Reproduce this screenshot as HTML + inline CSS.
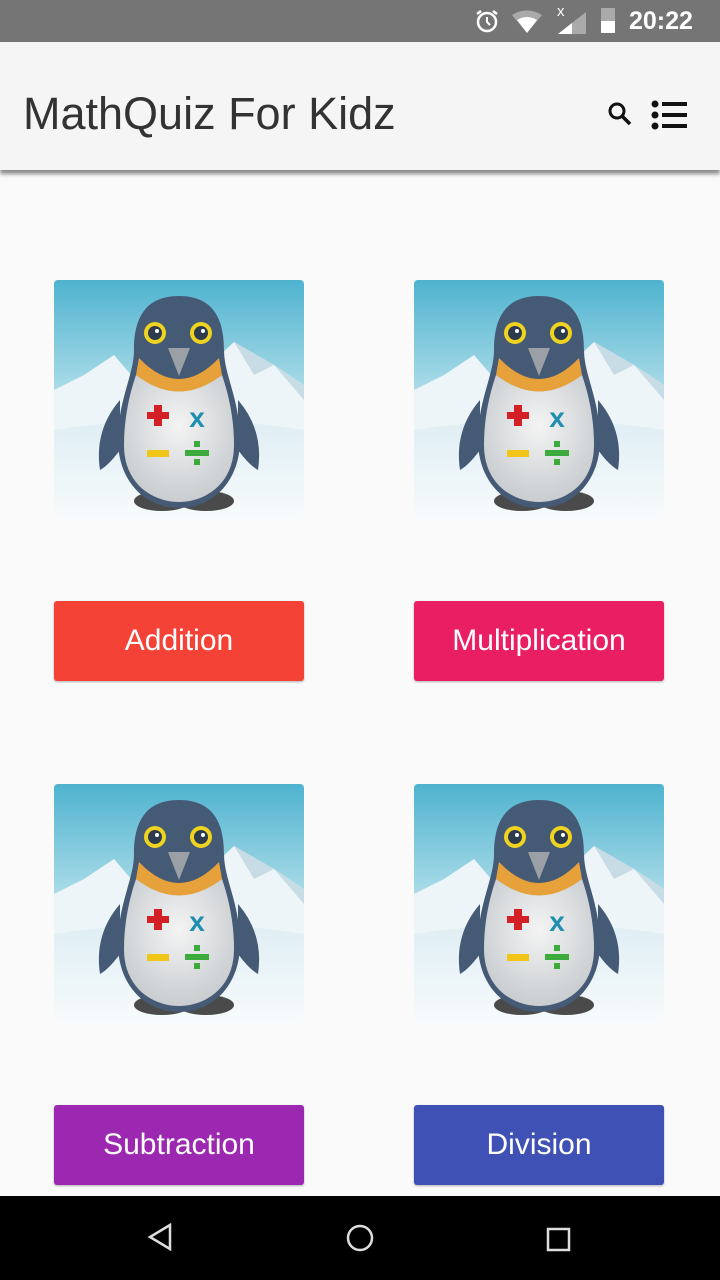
<!DOCTYPE html>
<html><head><meta charset="utf-8"><style>
body{margin:0;width:720px;height:1280px;background:#fafafa;position:relative;overflow:hidden;font-family:"Liberation Sans",sans-serif}
.sb{position:absolute;left:0;top:0;width:720px;height:42px;background:#757575;color:#fff}
.ab{position:absolute;left:0;top:42px;width:720px;height:128px;background:#f5f5f5;box-shadow:0 4px 4px rgba(0,0,0,.45)}
.title{position:absolute;left:23px;top:87px;font-size:45px;color:#333;line-height:54px}
.img{position:absolute;width:250px;height:240px;border-radius:4px;overflow:hidden}
.btn{position:absolute;width:250px;height:80px;border-radius:3px;color:#fff;font-size:30px;text-align:center;line-height:80px;box-shadow:0 1px 2px rgba(0,0,0,.3)}
.nav{position:absolute;left:0;top:1196px;width:720px;height:84px;background:#000}
</style></head><body>
<svg width="0" height="0" style="position:absolute"><defs>
<linearGradient id="sky" x1="0" y1="0" x2="0" y2="1"><stop offset="0" stop-color="#4fb3cf"/><stop offset="0.45" stop-color="#a9dbe8"/><stop offset="1" stop-color="#e6f2f6"/></linearGradient>
<linearGradient id="snow" x1="0" y1="0" x2="0" y2="1"><stop offset="0" stop-color="#dfeef4"/><stop offset="1" stop-color="#f7fbfc"/></linearGradient>
<radialGradient id="belly" cx="0.5" cy="0.4" r="0.6"><stop offset="0" stop-color="#f4f4f4"/><stop offset="1" stop-color="#c9cdd0"/></radialGradient>
<symbol id="p" viewBox="0 0 250 240">
<rect width="250" height="240" fill="url(#sky)"/>
<path d="M0 110 L30 95 L60 75 L90 110 L150 90 L180 62 L220 85 L250 105 L250 240 L0 240Z" fill="#eef5f8"/>
<path d="M0 150 Q125 130 250 150 L250 240 L0 240Z" fill="url(#snow)"/>
<path d="M180 62 L200 95 L220 85 L250 120 L250 105 L220 85Z" fill="#c8dce6"/>
<ellipse cx="108" cy="221" rx="28" ry="10" fill="#4a4a4a"/><ellipse cx="152" cy="221" rx="28" ry="10" fill="#4a4a4a"/>
<path d="M66 120 Q40 150 46 190 Q55 185 66 170Z" fill="#455a75"/>
<path d="M184 120 Q210 150 204 190 Q195 185 184 170Z" fill="#455a75"/>
<path d="M125 16 C90 16 80 40 80 70 C80 95 64 120 64 160 C64 200 90 228 125 228 C160 228 186 200 186 160 C186 120 170 95 170 70 C170 40 160 16 125 16Z" fill="#455a75"/>
<path d="M85 78 Q125 120 165 78 L168 95 Q125 130 82 95Z" fill="#e6a13a"/>
<path d="M82 95 Q125 128 168 95 Q180 130 180 165 C180 205 150 222 125 222 C100 222 70 205 70 165 Q70 130 82 95Z" fill="url(#belly)"/>
<circle cx="101" cy="53" r="11" fill="#f0d320"/><circle cx="101" cy="53" r="7" fill="#2d3b4e"/><circle cx="103" cy="51" r="2" fill="#fff"/>
<circle cx="147" cy="53" r="11" fill="#f0d320"/><circle cx="147" cy="53" r="7" fill="#2d3b4e"/><circle cx="149" cy="51" r="2" fill="#fff"/>
<path d="M114 68 L136 68 L125 96Z" fill="#9aa0a6"/>
<rect x="93" y="132" width="22" height="7" fill="#d31f26"/><rect x="100" y="125" width="8" height="21" fill="#d31f26"/>
<text x="143" y="147" font-family="Liberation Sans" font-weight="bold" font-size="28" fill="#1f8fb0" text-anchor="middle">x</text>
<rect x="93" y="170" width="22" height="7" fill="#f2c618"/>
<rect x="131" y="170" width="24" height="6" fill="#3caa3c"/><rect x="140" y="161" width="6" height="6" fill="#3caa3c"/><rect x="140" y="179" width="6" height="6" fill="#3caa3c"/>
</symbol></defs></svg>
<div class="sb">
<svg style="position:absolute;left:474px;top:8px" width="26" height="26" viewBox="0 0 26 26"><circle cx="13" cy="14" r="9" fill="none" stroke="#fff" stroke-width="2.5"/><path d="M13 9v5l3 3" stroke="#fff" stroke-width="2" fill="none"/><path d="M3 6l4-3M23 6l-4-3" stroke="#fff" stroke-width="2.5"/></svg>
<svg style="position:absolute;left:512px;top:10px" width="30" height="24" viewBox="0 0 30 24"><path d="M0 5 Q15 -4 30 5 L15 23Z" fill="#aaa"/><path d="M5 10 Q15 4 25 10 L15 23Z" fill="#fff"/></svg>
<div style="position:absolute;left:557px;top:3px;font-size:15px">x</div>
<svg style="position:absolute;left:558px;top:12px" width="28" height="22"><path d="M0 22L28 0V22Z" fill="#aaa"/><path d="M0 22L14 11V22Z" fill="#fff"/></svg>
<div style="position:absolute;left:601px;top:8px;width:14px;height:24px;background:#aaa"></div><div style="position:absolute;left:601px;top:21px;width:14px;height:12px;background:#fff"></div>
<div style="position:absolute;left:629px;top:7px;font-size:25px;font-weight:bold">20:22</div>
</div>
<div class="ab"></div>
<div class="title">MathQuiz For Kidz</div>
<svg style="position:absolute;left:606px;top:100px" width="28" height="28" viewBox="0 0 28 28"><circle cx="11" cy="11" r="7" fill="none" stroke="#111" stroke-width="3"/><path d="M16 16l8 8" stroke="#111" stroke-width="3.5"/></svg>
<svg style="position:absolute;left:651px;top:100px" width="38" height="30" viewBox="0 0 38 30"><circle cx="4" cy="4" r="3.5" fill="#111"/><circle cx="4" cy="15" r="3.5" fill="#111"/><circle cx="4" cy="26" r="3.5" fill="#111"/><rect x="11" y="2" width="25" height="4" fill="#111"/><rect x="11" y="13" width="25" height="4" fill="#111"/><rect x="11" y="24" width="25" height="4" fill="#111"/></svg>
<svg class="img" style="left:54px;top:280px"><use href="#p"/></svg>
<svg class="img" style="left:414px;top:280px"><use href="#p"/></svg>
<svg class="img" style="left:54px;top:784px"><use href="#p"/></svg>
<svg class="img" style="left:414px;top:784px"><use href="#p"/></svg>
<div class="btn" style="left:54px;top:601px;background:#f44336">Addition</div>
<div class="btn" style="left:414px;top:601px;background:#e91e63">Multiplication</div>
<div class="btn" style="left:54px;top:1105px;background:#9c27b0">Subtraction</div>
<div class="btn" style="left:414px;top:1105px;background:#3f51b5">Division</div>
<div class="nav">
<svg style="position:absolute;left:146px;top:26px" width="30" height="30"><path d="M24 3L4 15L24 27Z" fill="none" stroke="#ddd" stroke-width="2.5"/></svg>
<svg style="position:absolute;left:345px;top:27px" width="30" height="30"><circle cx="15" cy="15" r="12" fill="none" stroke="#ddd" stroke-width="2.5"/></svg>
<svg style="position:absolute;left:546px;top:31px" width="26" height="26"><rect x="2" y="2" width="21" height="21" fill="none" stroke="#ddd" stroke-width="2.5"/></svg>
</div>
</body></html>
